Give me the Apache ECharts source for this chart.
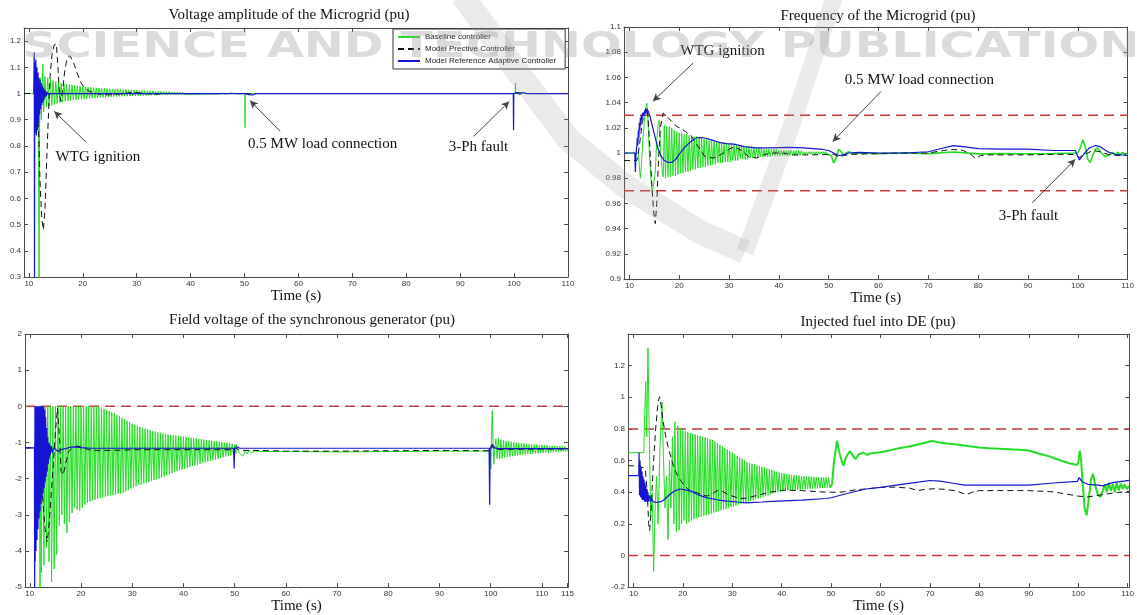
<!DOCTYPE html>
<html><head><meta charset="utf-8">
<script src="https://cdn.jsdelivr.net/npm/echarts@6.0.0/dist/echarts.min.js"></script>
<style>html,body{margin:0;padding:0;background:#fff}#c{width:1137px;height:615px}</style>
</head><body><div id="c"></div>
<script>
// ---------- tick labels ----------
const xTicks = [10,20,30,40,50,60,70,80,90,100,110];
const xTicksField = [10,20,30,40,50,60,70,80,90,100,110,115];
const yTicksVolt = [0.3,0.4,0.5,0.6,0.7,0.8,0.9,1,1.1,1.2];
const yTicksFreq = [0.9,0.92,0.94,0.96,0.98,1,1.02,1.04,1.06,1.08,1.1];
const yTicksField = [-5,-4,-3,-2,-1,0,1,2];
const yTicksFuel = [-0.2,0,0.2,0.4,0.6,0.8,1,1.2];
const seriesNames = ['Baseline controller','Model Prective Controller','Model Reference Adaptive Controller'];
const HALF = 0.25; // half period of the baseline oscillation samples (s)

// ---------- Panel 1: voltage amplitude ----------
const voltBaselinePre = [[9.1,1],[11.7,1],[11.8,0.7],[11.9,0.28],[12.0,0.95],[12.15,1.06],[12.3,0.9],[12.45,1.0],[12.6,1.112],[12.75,0.93]];
const voltBaselineOscStart = 13.0;
const voltBaselineOsc = [[1.065,0.95],[1.06,0.952],[1.055,0.955],[1.05,0.958],[1.046,0.962],[1.042,0.965],[1.04,0.968],[1.038,0.97],[1.036,0.972],[1.034,0.973],
[1.033,0.975],[1.031,0.976],[1.03,0.977],[1.028,0.978],[1.027,0.979],[1.026,0.98],[1.025,0.981],[1.024,0.982],[1.023,0.983],[1.022,0.984],
[1.021,0.985],[1.02,0.985],[1.02,0.986],[1.019,0.987],[1.018,0.987],[1.017,0.988],[1.017,0.988],[1.016,0.989],[1.016,0.989],[1.015,0.99],
[1.015,0.99],[1.014,0.99],[1.014,0.991],[1.013,0.991],[1.013,0.992],[1.012,0.992],[1.012,0.992],[1.011,0.993],[1.011,0.993],[1.01,0.993],
[1.01,0.994],[1.009,0.994],[1.009,0.994],[1.008,0.995],[1.008,0.995],[1.007,0.995],[1.007,0.995],[1.006,0.996],[1.006,0.996],[1.005,0.996],
[1.005,0.996],[1.005,0.997],[1.004,0.997],[1.004,0.997],[1.004,0.997],[1.004,0.997],[1.003,0.997],[1.003,0.998],[1.003,0.998],[1.003,0.998],
[1.003,0.998],[1.003,0.998],[1.003,0.998],[1.002,0.998]];
const voltBaselinePost = [[45,1.002],[45.5,0.998],[46,1.002],[46.5,0.998],[47.5,1.002],[48.5,0.999],[50.05,1.0],[50.1,0.87],[50.15,1.0],[50.5,1.002],[51,0.998],[51.5,1.001],[52.5,1.0],[100.2,1.0],[100.25,1.04],[100.3,1.0],[100.8,1.003],[101.3,0.998],[101.8,1.002],[102.5,1.0],[110,1.0]];
const voltMPC = [[9.1,1],[11.4,1],[11.75,0.89],[12.1,0.65],[12.4,0.52],[12.7,0.48],[13.0,0.56],[13.3,0.74],[13.6,0.9],[13.9,1.055],[14.3,1.15],[14.7,1.185],[15.1,1.19],[15.4,1.1],[15.7,0.99],[16.0,0.97],[16.3,1.02],[16.7,1.093],[17.1,1.135],[17.6,1.144],[18.0,1.13],[18.5,1.106],[19.1,1.07],[19.8,1.036],[20.4,1.02],[21.1,1.01],[22,1.002],[23,0.998],[24.5,0.995],[26,0.996],[27.5,1.0],[29,1.004],[30.5,1.003],[32,0.999],[33.5,0.997],[35,1.0],[50,1.0],[50.3,0.996],[51.5,0.999],[52,1.0],[79,1.0],[79.3,0.996],[79.8,1.0],[100,1.0],[100.3,0.995],[101,1.004],[102,1.0],[110,1.0]];
const voltMRAC = [[10.9,1],[11.0,1.157],[11.05,0.28],[11.1,1.12],[11.2,0.85],[11.3,1.13],[11.4,0.84],[11.5,1.1],[11.6,0.86],[11.7,1.08],[11.8,0.89],[11.9,1.06],[12.0,0.92],[12.1,1.05],[12.2,0.94],[12.3,1.04],[12.4,0.955],[12.5,1.03],[12.6,0.965],[12.7,1.022],[12.8,0.975],[12.9,1.015],[13.0,0.985],[13.1,1.01],[13.2,0.99],[13.4,1.005],[13.6,0.996],[14,1.0],[50,1.0],[50.1,0.994],[50.8,0.996],[51.5,0.995],[52.3,1.0],[99.85,1.0],[99.9,0.86],[99.95,1.0],[100.5,1.004],[101,0.997],[101.6,1.004],[102.3,1.0],[110,1.0]];

// ---------- Panel 2: frequency ----------
const freqBaselinePre = [[8.92,1.0],[11.8,1.0],[12.0,0.99],[12.2,0.98],[12.4,0.99],[12.7,1.01],[13.0,1.025],[13.3,1.036],[13.5,1.0396],[13.7,1.03],[14.0,1.0],[14.3,0.98],[14.6,0.968],[14.9,0.967],[15.2,0.985],[15.5,1.01],[15.8,1.024],[16.0,1.026],[16.3,1.0],[16.6,0.985],[16.8,0.981]];
const freqBaselineOscStart = 17.0;
const freqBaselineOsc = [[1.022,0.98],[1.021,0.981],[1.021,0.981],[1.02,0.982],[1.018,0.982],[1.017,0.983],[1.016,0.984],[1.016,0.984],[1.015,0.985],[1.015,0.985],
[1.014,0.986],[1.014,0.987],[1.013,0.987],[1.013,0.988],[1.012,0.988],[1.012,0.989],[1.011,0.989],[1.011,0.99],[1.01,0.99],[1.01,0.991],
[1.009,0.991],[1.009,0.992],[1.009,0.992],[1.008,0.992],[1.008,0.993],[1.008,0.993],[1.007,0.993],[1.007,0.994],[1.007,0.994],[1.006,0.994],
[1.006,0.995],[1.006,0.995],[1.005,0.995],[1.005,0.995],[1.005,0.996],[1.005,0.996],[1.004,0.996],[1.004,0.996],[1.004,0.997],[1.004,0.997],
[1.003,0.997],[1.003,0.997],[1.003,0.997],[1.003,0.998],[1.003,0.998],[1.003,0.998],[1.002,0.998],[1.002,0.998],[1.002,0.998],[1.002,0.998],
[1.002,0.998],[1.002,0.998],[1.002,0.998],[1.002,0.998],[1.002,0.998],[1.002,0.999],[1.001,0.999],[1.001,0.999],[1.001,0.999],[1.001,0.999],
[1.001,0.999],[1.001,0.999],[1.001,0.999],[1.001,0.999],[1.001,0.999],[1.001,0.999]];
const freqBaselinePost = [[50,1.0],[50.5,0.998],[51,0.992],[51.5,0.996],[52,1.003],[52.5,1.001],[53,0.998],[53.5,1.0],[54,1.001],[55,0.9995],[56,1.0],[60,0.9995],[65,1.0],[70,0.9995],[75,1.0008],[80,0.9993],[85,0.9995],[90,0.9994],[95,0.9995],[100,1.0],[100.5,1.004],[101,1.0105],[101.5,1.005],[102,0.995],[102.5,0.9925],[103,0.998],[103.5,1.003],[104,1.004],[104.7,1.0],[105.5,0.997],[106.5,0.999],[107,1.0005],[107.5,0.9985],[108,1.0005],[108.5,0.9985],[109,1.0005],[109.5,0.9985],[110,0.9995]];
const freqMPC = [[8.92,0.994],[11.5,0.994],[11.8,1.0],[12.2,1.012],[12.6,1.024],[13.0,1.032],[13.4,1.036],[13.7,1.03],[14.1,1.005],[14.5,0.975],[14.9,0.952],[15.2,0.944],[15.5,0.96],[15.8,0.99],[16.2,1.02],[16.8,1.0317],[17.5,1.029],[18.5,1.025],[19.5,1.021],[20.2,1.0197],[21.3,1.017],[22.5,1.013],[23.8,1.005],[25.2,0.997],[26.8,0.996],[28.5,0.999],[30,1.003],[31.1,1.005],[32.5,1.002],[34,0.997],[35.5,0.996],[37,0.9985],[38.5,1.0],[40.6,1.0],[43,0.9985],[46,0.9985],[50,0.9988],[51,0.999],[52,0.997],[53,0.998],[55,0.999],[60,0.9995],[65,1.0],[70,1.0],[73,1.002],[75,1.0028],[77,1.002],[78.5,0.999],[79.5,0.9955],[80.5,0.998],[82,0.9985],[90,0.9985],[95,0.999],[99.5,0.9988],[100.3,0.9965],[101.5,0.999],[103,1.002],[104.5,1.001],[106,0.999],[108,0.998],[110,0.998]];
const freqMRAC = [[8.92,1.0],[11.1,1.0],[11.2,0.985],[11.35,1.0],[11.5,1.006],[11.6,1.012],[11.7,1.006],[11.8,1.018],[11.9,1.012],[12.0,1.024],[12.1,1.018],[12.2,1.028],[12.3,1.022],[12.4,1.03],[12.5,1.026],[12.7,1.032],[12.9,1.029],[13.1,1.034],[13.3,1.031],[13.5,1.035],[13.8,1.033],[14.2,1.028],[14.7,1.02],[15.2,1.012],[15.7,1.004],[16.3,0.998],[17,0.994],[17.8,0.9925],[18.5,0.9925],[19.3,0.995],[20.2,1.0],[21.2,1.005],[22.3,1.009],[23.4,1.012],[24.5,1.0123],[25.6,1.0115],[26.8,1.01],[28,1.0085],[29.5,1.0075],[31,1.007],[33,1.005],[35.5,1.004],[38,1.004],[42,1.0045],[45,1.004],[48.8,1.0028],[50,1.002],[51,1.0],[52,0.998],[53,0.9985],[54,1.0],[56,1.0005],[60,1.0],[65,1.0],[70,1.001],[72,1.003],[75,1.0058],[77,1.005],[80,1.0035],[85,1.003],[90,1.003],[95,1.002],[99.5,1.002],[100.3,0.9945],[101.2,0.999],[102.3,1.004],[103.5,1.006],[104.5,1.005],[106,1.001],[107.5,0.999],[110,0.998]];
const freqLimits = [0.97, 1.03];

// ---------- Panel 3: field voltage ----------
const fieldBaselinePre = [[9.06,-1.15],[11.9,-1.15],[12.0,-5.3],[12.1,0],[12.25,-4.6]];
const fieldBaselineOscStart = 12.5;
const fieldBaselineOsc = [[0,-4.4],[0,-3.9],[0,-4.3],[0,-4.85],[0,-4.5],[0,-4.1],[0,-3.3],[0,-3.0],[0,-3.25],[0,-3.5],
[0,-3.2],[0,-2.95],[0,-2.8],[0,-2.85],[0,-2.88],[0,-2.8],[0,-2.72],[0,-2.67],[0,-2.63],[0,-2.6],
[0,-2.58],[-0.01,-2.56],[-0.02,-2.54],[-0.04,-2.52],[-0.07,-2.5],[-0.1,-2.48],[-0.13,-2.46],[-0.17,-2.45],[-0.2,-2.44],[-0.24,-2.42],
[-0.28,-2.41],[-0.32,-2.39],[-0.36,-2.35],[-0.4,-2.31],[-0.44,-2.27],[-0.48,-2.24],[-0.51,-2.21],[-0.54,-2.18],[-0.57,-2.16],[-0.6,-2.13],
[-0.62,-2.11],[-0.64,-2.09],[-0.66,-2.06],[-0.68,-2.04],[-0.7,-2.02],[-0.72,-2.0],[-0.73,-1.97],[-0.75,-1.94],[-0.76,-1.91],[-0.78,-1.88],
[-0.79,-1.85],[-0.8,-1.82],[-0.81,-1.79],[-0.82,-1.77],[-0.83,-1.75],[-0.84,-1.73],[-0.85,-1.7],[-0.86,-1.68],[-0.87,-1.65],[-0.88,-1.63],
[-0.89,-1.61],[-0.9,-1.59],[-0.91,-1.57],[-0.92,-1.55],[-0.93,-1.53],[-0.94,-1.51],[-0.95,-1.49],[-0.96,-1.47],[-0.97,-1.45],[-0.98,-1.43],
[-0.99,-1.41],[-1.0,-1.39],[-1.01,-1.37],[-1.02,-1.35],[-1.04,-1.32],[-1.06,-1.3]];
const fieldBaselineMid = [[50.3,-1.05],[50.6,-1.2],[51,-1.3],[51.6,-1.38],[52,-1.25],[52.4,-1.32],[52.8,-1.22],[53.3,-1.28],[54,-1.23],[55,-1.25],[60,-1.25],[70,-1.26],[80,-1.25],[90,-1.24],[99.9,-1.24],[100.05,-1.72],[100.2,-0.6],[100.3,-0.12],[100.45,-0.9],[100.6,-1.6],[100.8,-1.2]];
const fieldBaselineOsc2Start = 101.0;
const fieldBaselineOsc2 = [[-0.9,-1.45],[-0.88,-1.46],[-0.92,-1.44],[-0.94,-1.42],[-0.96,-1.4],[-0.97,-1.39],[-0.98,-1.38],[-0.99,-1.37],[-1.0,-1.36],[-1.01,-1.35],
[-1.02,-1.34],[-1.03,-1.33],[-1.04,-1.32],[-1.05,-1.32],[-1.05,-1.31],[-1.06,-1.3],[-1.06,-1.3],[-1.07,-1.29],[-1.07,-1.29],[-1.08,-1.28],
[-1.08,-1.28],[-1.09,-1.27],[-1.09,-1.27],[-1.1,-1.26],[-1.1,-1.26],[-1.1,-1.25],[-1.11,-1.25],[-1.11,-1.25]];
const fieldBaselinePost = [[115.1,-1.18]];
const fieldMPC = [[9.06,-1.15],[11.0,-1.15],[11.2,-0.6],[11.5,-0.3],[11.8,-0.8],[12.1,-1.6],[12.4,-2.3],[12.7,-2.9],[13.0,-3.4],[13.4,-3.75],[13.8,-3.2],[14.2,-2.4],[14.6,-1.6],[15.0,-0.7],[15.4,-0.05],[15.6,-0.1],[15.8,-0.9],[16.1,-1.8],[16.5,-1.9],[17.0,-1.6],[17.6,-1.25],[18.3,-1.15],[19.2,-1.1],[20,-1.12],[21.5,-1.2],[23,-1.22],[26,-1.22],[30,-1.2],[40,-1.2],[49.8,-1.2],[50.2,-1.15],[51,-1.22],[55,-1.22],[60,-1.24],[70,-1.24],[80,-1.23],[90,-1.22],[100,-1.23],[100.3,-1.1],[100.8,-1.2],[102,-1.19],[115.1,-1.18]];
const fieldMRAC = [[9.06,-1.15],[10.9,-1.15],[10.95,-5.2],[11.0,0],[11.05,-4.3],[11.1,0],[11.2,-4.0],[11.3,0],[11.4,-3.7],[11.5,0],[11.6,-3.4],[11.7,0],[11.8,-3.1],[11.9,0],[12.0,-2.9],[12.1,0],[12.2,-2.7],[12.3,0],[12.4,-2.55],[12.5,0],[12.6,-2.4],[12.7,0],[12.8,-2.25],[12.9,-0.1],[13.0,-2.1],[13.1,-0.3],[13.2,-1.95],[13.3,-0.6],[13.4,-1.8],[13.5,-0.85],[13.6,-1.6],[13.7,-1.0],[13.8,-1.45],[13.9,-1.05],[14.0,-1.35],[14.2,-1.1],[14.4,-1.28],[14.7,-1.15],[15.0,-1.2],[15.5,-1.25],[16.0,-1.2],[17.0,-1.17],[18.0,-1.13],[19.0,-1.12],[20.0,-1.14],[22.0,-1.16],[49.8,-1.16],[49.9,-1.72],[50.0,-1.16],[50.4,-1.12],[51,-1.16],[99.7,-1.16],[99.8,-2.72],[99.9,-1.16],[100.3,-1.05],[100.8,-1.15],[101.5,-1.17],[115.1,-1.17]];
const fieldLimits = [0];

// ---------- Panel 4: injected fuel ----------
const fuelBaselinePre = [[8.91,0.65],[12.1,0.65],[12.3,0.9],[12.5,1.1],[12.7,0.75],[12.95,1.313],[13.2,0.8],[13.5,0.25],[13.8,0.4],[14.1,-0.1],[14.4,0.3],[14.7,0.5],[15.0,0.2],[15.4,0.7],[15.8,0.97],[16.1,0.6],[16.4,0.3],[16.7,0.5],[17.0,0.1],[17.3,0.6],[17.6,0.3],[17.9,0.75],[18.2,0.2],[18.4,0.845],[18.7,0.15]];
const fuelBaselineOscStart = 19.0;
const fuelBaselineOsc = [[0.82,0.16],[0.8,0.2],[0.79,0.22],[0.785,0.2],[0.78,0.21],[0.775,0.22],[0.77,0.23],[0.765,0.235],[0.76,0.24],[0.755,0.245],
[0.75,0.25],[0.745,0.255],[0.74,0.26],[0.735,0.265],[0.73,0.27],[0.72,0.275],[0.71,0.28],[0.7,0.285],[0.69,0.29],[0.68,0.295],
[0.67,0.3],[0.66,0.305],[0.65,0.31],[0.64,0.315],[0.63,0.32],[0.62,0.325],[0.61,0.33],[0.6,0.335],[0.59,0.34],[0.585,0.345],
[0.58,0.35],[0.575,0.355],[0.57,0.36],[0.565,0.365],[0.56,0.37],[0.555,0.375],[0.55,0.38],[0.545,0.385],[0.54,0.39],[0.535,0.395],
[0.53,0.4],[0.525,0.4],[0.52,0.405],[0.518,0.407],[0.515,0.41],[0.513,0.41],[0.51,0.412],[0.508,0.413],[0.506,0.415],[0.505,0.416],
[0.503,0.418],[0.502,0.419],[0.5,0.42],[0.499,0.421],[0.498,0.422],[0.497,0.423],[0.496,0.424],[0.495,0.425],[0.494,0.426],[0.493,0.427],
[0.492,0.428],[0.491,0.429]];
const fuelBaselinePost = [[50.2,0.45],[50.6,0.6],[51.2,0.725],[51.6,0.66],[52.1,0.6],[52.5,0.568],[53,0.62],[53.8,0.66],[54.4,0.63],[55,0.61],[55.6,0.64],[56.5,0.65],[57.3,0.635],[58,0.645],[59,0.65],[60,0.652],[62,0.665],[64,0.68],[66,0.69],[68,0.705],[70,0.72],[70.5,0.725],[71.5,0.715],[73,0.71],[75,0.703],[78,0.69],[80,0.683],[82,0.678],[85,0.673],[88,0.668],[90,0.663],[92,0.645],[94,0.628],[96,0.605],[98,0.585],[99.8,0.572],[100.1,0.6],[100.3,0.662],[100.6,0.6],[100.9,0.45],[101.3,0.3],[101.7,0.254],[102.1,0.35],[102.6,0.48],[103,0.516],[103.4,0.45],[104,0.38],[104.5,0.37],[105,0.41],[105.4,0.45],[105.8,0.4],[106.2,0.46],[106.6,0.41],[107,0.45],[107.4,0.4],[107.8,0.46],[108.2,0.41],[108.6,0.455],[109,0.42],[109.4,0.45],[109.8,0.42],[110.3,0.44]];
const fuelMPC = [[8.91,0.568],[11,0.565],[12.4,0.55],[12.8,0.4],[13.1,0.2],[13.3,0.156],[13.6,0.3],[14.0,0.55],[14.5,0.8],[15.0,0.97],[15.3,1.003],[15.6,0.95],[16.0,0.85],[16.5,0.76],[17,0.69],[17.6,0.62],[18.2,0.555],[19,0.5],[20.3,0.44],[21.5,0.41],[22.9,0.396],[24.9,0.375],[26,0.39],[26.9,0.41],[28,0.405],[29.5,0.38],[31.6,0.36],[33,0.362],[35,0.38],[37.6,0.4],[40.3,0.413],[44,0.41],[49,0.4],[52,0.4],[55,0.415],[57,0.42],[60,0.43],[63,0.432],[66,0.425],[67.5,0.41],[69,0.418],[71,0.422],[73,0.418],[75,0.41],[76.5,0.395],[77.5,0.385],[78.5,0.4],[80,0.41],[85,0.41],[90,0.41],[95,0.402],[100,0.375],[102,0.37],[104,0.38],[106,0.39],[108,0.398],[110.3,0.405]];
const fuelMRAC = [[8.91,0.505],[11.1,0.505],[11.15,0.65],[11.25,0.38],[11.35,0.6],[11.45,0.37],[11.55,0.56],[11.65,0.36],[11.75,0.53],[11.85,0.35],[11.95,0.5],[12.05,0.35],[12.15,0.48],[12.25,0.34],[12.35,0.46],[12.45,0.34],[12.55,0.44],[12.65,0.34],[12.75,0.42],[12.85,0.34],[12.95,0.4],[13.1,0.34],[13.3,0.38],[13.5,0.34],[13.7,0.36],[14.0,0.34],[14.6,0.335],[15.6,0.34],[16.5,0.36],[17.5,0.39],[18.5,0.41],[19.4,0.42],[20.5,0.415],[21.8,0.405],[23,0.385],[24.9,0.364],[27,0.352],[28.9,0.344],[31,0.338],[32.9,0.333],[36,0.338],[39,0.344],[44,0.35],[49,0.36],[50,0.365],[53,0.39],[57,0.42],[60,0.43],[65,0.452],[68,0.465],[70,0.474],[72,0.47],[75,0.455],[77,0.445],[80,0.445],[85,0.445],[90,0.445],[95,0.458],[99.8,0.468],[100.2,0.492],[100.8,0.465],[102,0.45],[104,0.445],[105,0.44],[107,0.46],[110.3,0.475]];
const fuelLimits = [0, 0.8];

// ---------- annotations (data coordinates) ----------
const voltNotes = [['WTG ignition',22.8,0.757],['0.5 MW load connection',64.5,0.807],['3-Ph fault',93.4,0.795]];
const voltArrows = [[20.6,0.815,14.7,0.932],[56.6,0.856,51,0.973],[92.5,0.836,99.1,0.97]];
const freqNotes = [['WTG ignition',28.7,1.0806],['0.5 MW load connection',68.2,1.058],['3-Ph fault',90.1,0.95]];
const freqArrows = [[22.8,1.0714,14.7,1.041],[60.5,1.0489,50.8,1.009],[90.9,0.9606,99.5,0.995]];
const titles = ['Voltage amplitude of the Microgrid (pu)','Frequency of the Microgrid (pu)','Field voltage of the synchronous generator (pu)','Injected fuel into DE (pu)'];

// ---------- build ----------
function withOsc(pre, t0, cycles, post) {
  const d = pre.slice();
  cycles.forEach((c, i) => { const t = t0 + i * 2 * HALF; d.push([t, c[0]], [t + HALF, c[1]]); });
  return d.concat(post);
}
const voltBaseline = withOsc(voltBaselinePre, voltBaselineOscStart, voltBaselineOsc, voltBaselinePost);
const freqBaselineA = withOsc(freqBaselinePre, freqBaselineOscStart, freqBaselineOsc, []);
const freqBaselineB = [freqBaselineA[freqBaselineA.length - 1]].concat(freqBaselinePost);
const fieldBaseline = withOsc(withOsc(fieldBaselinePre, fieldBaselineOscStart, fieldBaselineOsc, fieldBaselineMid), fieldBaselineOsc2Start, fieldBaselineOsc2, fieldBaselinePost);
const fuelBaselineA = withOsc(fuelBaselinePre, fuelBaselineOscStart, fuelBaselineOsc, []);
const fuelBaselineB = [fuelBaselineA[fuelBaselineA.length - 1]].concat(fuelBaselinePost);

const SANS = 'Liberation Sans', SERIF = 'Liberation Serif', AXC = '#4a4a4a';
const GREEN = '#22dd22', BLACK = '#111111', BLUE = '#1414d2', RED = '#c83838';

const panels = [
  {grid:{left:24, top:28, width:544, height:249}, x:[9.1,110], xt:xTicks, y:[0.3,1.25], yt:yTicksVolt, gap:9,
   data:[voltBaseline, voltMPC, voltMRAC], extra:null, limits:[], arrows:voltArrows, notes:voltNotes},
  {grid:{left:624, top:27, width:508, height:252}, x:[8.92,110], xt:xTicks, y:[0.9,1.1], yt:yTicksFreq, gap:11,
   data:[freqBaselineA, freqMPC, freqMRAC], extra:freqBaselineB, extraWidth:1.6, limits:freqLimits, arrows:freqArrows, notes:freqNotes},
  {grid:{left:25, top:334, width:543, height:254}, x:[9.06,115.1], xt:xTicksField, y:[-5,2], yt:yTicksField, gap:10,
   data:[fieldBaseline, fieldMPC, fieldMRAC], extra:null, limits:fieldLimits, arrows:[], notes:[]},
  {grid:{left:628, top:334, width:504, height:255}, x:[8.91,110.3], xt:xTicks, y:[-0.2,1.4], yt:yTicksFuel, gap:11,
   data:[fuelBaselineA, fuelMPC, fuelMRAC], extra:fuelBaselineB, extraWidth:2, limits:fuelLimits, arrows:[], notes:[]}
];

const grids = [], xAxes = [], yAxes = [], series = [];
const fmt = v => String(parseFloat(Number(v).toFixed(3)));
panels.forEach((p, g) => {
  grids.push(p.grid);
  const line = {show:true, onZero:false, lineStyle:{color:AXC, width:1}};
  const tick = vals => ({show:true, inside:true, length:4, customValues:vals, lineStyle:{color:AXC, width:1}});
  const lab = vals => ({show:true, customValues:vals, fontFamily:SANS, fontSize:8, color:'#333', margin:3, formatter:fmt});
  xAxes.push({type:'value', gridIndex:g, position:'bottom', min:p.x[0], max:p.x[1], axisLine:line, axisTick:tick(p.xt), axisLabel:lab(p.xt), splitLine:{show:false},
    name:'Time (s)', nameLocation:'middle', nameGap:p.gap, nameTextStyle:{fontFamily:SERIF, fontSize:15, color:'#111', verticalAlign:'top'}});
  xAxes.push({type:'value', gridIndex:g, position:'top', min:p.x[0], max:p.x[1], axisLine:line, axisTick:tick(p.xt), axisLabel:{show:false}, splitLine:{show:false}});
  yAxes.push({type:'value', gridIndex:g, position:'left', min:p.y[0], max:p.y[1], axisLine:line, axisTick:tick(p.yt), axisLabel:lab(p.yt), splitLine:{show:false}});
  yAxes.push({type:'value', gridIndex:g, position:'right', min:p.y[0], max:p.y[1], axisLine:line, axisTick:tick(p.yt), axisLabel:{show:false}, splitLine:{show:false}});
  const base = {type:'line', xAxisIndex:2*g, yAxisIndex:2*g, showSymbol:false, symbol:'none', animation:false, silent:true, clip:true, emphasis:{disabled:true}};
  p.limits.forEach(v => series.push(Object.assign({}, base, {name:'limit'+g+'_'+v, data:[[p.x[0], v],[p.x[1], v]], z:1,
    lineStyle:{color:RED, width:1.5, type:[10,6]}, itemStyle:{color:RED}})));
  series.push(Object.assign({}, base, {name:seriesNames[0], data:p.data[0], z:2, lineStyle:{color:GREEN, width:1}, itemStyle:{color:GREEN}}));
  if (p.extra) series.push(Object.assign({}, base, {name:seriesNames[0], data:p.extra, z:2, lineStyle:{color:GREEN, width:p.extraWidth}, itemStyle:{color:GREEN}}));
  series.push(Object.assign({}, base, {name:seriesNames[1], data:p.data[1], z:3, lineStyle:{color:BLACK, width:1, type:[6,4]}, itemStyle:{color:BLACK}}));
  const blue = Object.assign({}, base, {name:seriesNames[2], data:p.data[2], z:4, lineStyle:{color:BLUE, width:1.2}, itemStyle:{color:BLUE}});
  if (p.arrows.length) {
    blue.markLine = {silent:true, animation:false, symbol:['none','arrow'], symbolSize:[6,8], label:{show:false},
      lineStyle:{color:'#444', width:1, type:'solid'}, emphasis:{disabled:true},
      data: p.arrows.map(a => [{coord:[a[0], a[1]]}, {coord:[a[2], a[3]]}])};
  }
  series.push(blue);
});

const chart = echarts.init(document.getElementById('c'), null, {renderer:'canvas'});
chart.setOption({
  backgroundColor:'#fff', animation:false,
  grid:grids, xAxis:xAxes, yAxis:yAxes, series:series,
  legend:{data:seriesNames, left:393, top:29, orient:'vertical', itemWidth:22, itemHeight:8, itemGap:4,
    padding:[4,9,4,4], borderColor:'#333', borderWidth:1, backgroundColor:'#fff', selectedMode:false,
    itemStyle:{opacity:0, borderWidth:0},
    textStyle:{fontFamily:SANS, fontSize:8, color:'#222'}},
});

// decorative publisher watermark (semi-transparent, on top), titles and annotations
const titlePos = [[289,15],[878,16.5],[312,320],[878,322]];
const graphics = [
  {type:'polyline', z:90, silent:true, shape:{points:[[462,-5],[520,75],[569,140],[624,185],[700,232],[745,252]]}, style:{stroke:'rgba(150,150,150,0.2)', lineWidth:24, fill:null, lineCap:'butt', lineJoin:'round'}},
  {type:'polyline', z:90, silent:true, shape:{points:[[745,252],[790,130],[835,-5]]}, style:{stroke:'rgba(150,150,150,0.2)', lineWidth:17, fill:null, lineCap:'butt', lineJoin:'round'}},
  {type:'text', x:22, y:48, scaleX:1.33, z:95, silent:true,
  style:{text:'SCIENCE AND TECHNOLOGY PUBLICATIONS', font:'bold 36px "DejaVu Sans"', fill:'rgba(150,150,150,0.34)', align:'left', verticalAlign:'middle', textAlign:'left', textVerticalAlign:'middle'}}];
titles.forEach((t, i) => graphics.push({type:'text', x:titlePos[i][0], y:titlePos[i][1], z:50, silent:true,
  style:{text:t, font:'15px "Liberation Serif"', fill:'#111', align:'center', verticalAlign:'middle', textAlign:'center', textVerticalAlign:'middle'}}));
panels.forEach((p, g) => p.notes.forEach(n => {
  const px = chart.convertToPixel({xAxisIndex:2*g, yAxisIndex:2*g}, [n[1], n[2]]);
  graphics.push({type:'text', x:px[0], y:px[1], z:50, silent:true,
    style:{text:n[0], font:'15px "Liberation Serif"', fill:'#111', align:'center', verticalAlign:'middle', textAlign:'center', textVerticalAlign:'middle'}});
}));
chart.setOption({graphic:graphics});
</script></body></html>
